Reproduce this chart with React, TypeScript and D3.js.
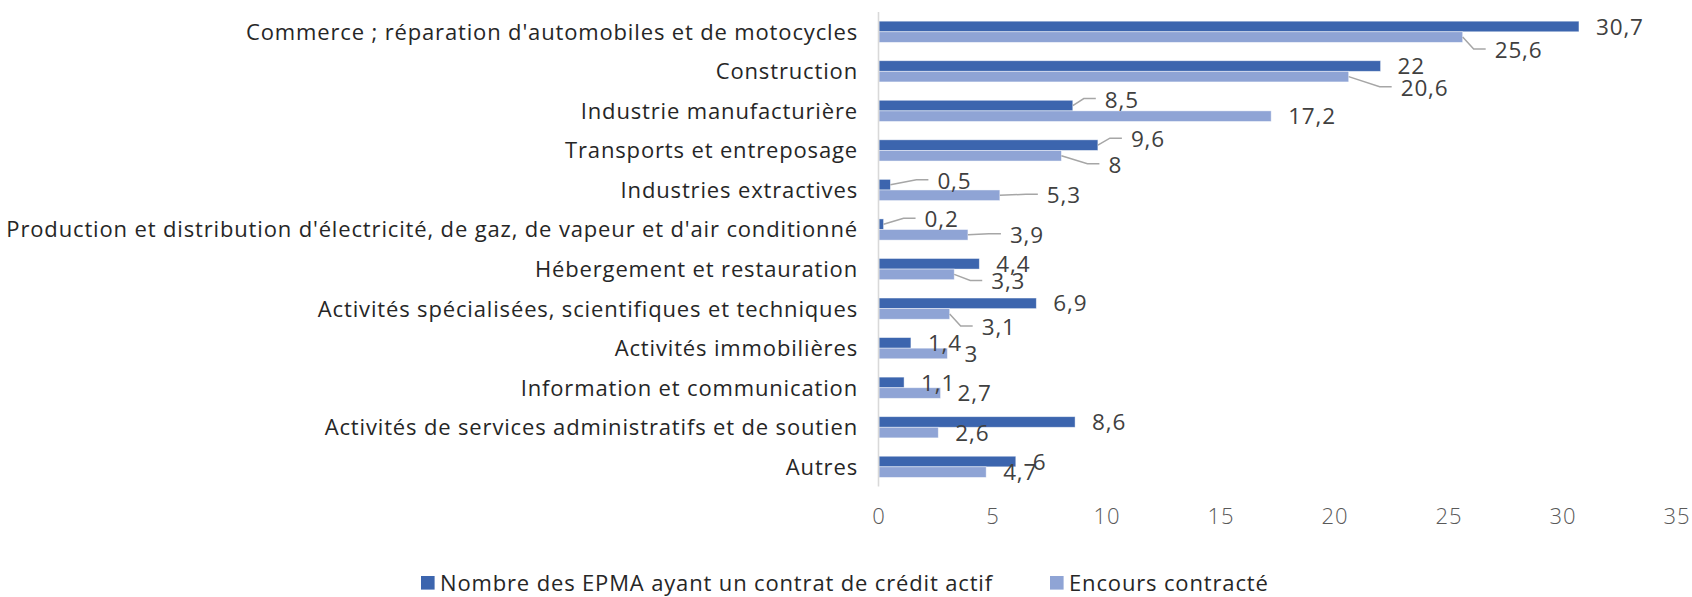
import React from "react";
import * as d3 from "d3";

const categories = [
  "Commerce ; réparation d'automobiles et de motocycles",
  "Construction",
  "Industrie manufacturière",
  "Transports et entreposage",
  "Industries extractives",
  "Production et distribution d'électricité, de gaz, de vapeur et d'air conditionné",
  "Hébergement et restauration",
  "Activités spécialisées, scientifiques et techniques",
  "Activités immobilières",
  "Information et communication",
  "Activités de services administratifs et de soutien",
  "Autres",
];

const nombreEPMA = [30.7, 22, 8.5, 9.6, 0.5, 0.2, 4.4, 6.9, 1.4, 1.1, 8.6, 6];
const encours = [25.6, 20.6, 17.2, 8, 5.3, 3.9, 3.3, 3.1, 3, 2.7, 2.6, 4.7];

const seriesNames = ["Nombre des EPMA ayant un contrat de crédit actif", "Encours contracté"];
const xTicks = [0, 5, 10, 15, 20, 25, 30, 35];

// manual label moves (px) from the default "outside end" spot, like in the source
const nudgeA: [number, number][] = [
  [0, 0], [0, 0], [15, -6], [16, -6], [30, -4], [24, -5],
  [0, 0], [0, 0], [0, 0], [0, 0], [0, 0], [0, 0],
];
const nudgeB: [number, number][] = [
  [15, 13], [35, 11], [0, 0], [30, 9], [30, 0], [25, 0],
  [20, 7], [15, 13], [0, 0], [0, 0], [0, 0], [0, 0],
];

const colors = ["#3c65ae", "#8fa4d5"];
const font = "'Open Sans', Lato, sans-serif";
const fs = 22;
const ls = 0.85;

const fmt = (v: number) => String(v).replace(".", ",");

export default function App() {
  const width = 1692;
  const height = 597;

  const x = d3.scaleLinear().domain([0, 35]).range([879, 1677]);
  const y = d3
    .scaleBand<string>()
    .domain(categories)
    .range([12, 486.6])
    .paddingInner(0.464)
    .paddingOuter(0.232);
  const sub = d3.scaleBand<number>().domain([0, 1]).range([0, y.bandwidth()]);

  const series = [nombreEPMA, encours];
  const nudges = [nudgeA, nudgeB];

  return (
    <svg width={width} height={height} style={{ position: "absolute", left: 0, top: 0 }}>
      <rect width={width} height={height} fill="#fff" />

      {/* bars */}
      {series.map((vals, si) =>
        vals.map((v, i) => (
          <rect
            key={`b${si}-${i}`}
            x={x(0)}
            y={(y(categories[i]) as number) + (sub(si) as number)}
            width={x(v) - x(0)}
            height={sub.bandwidth()}
            fill={colors[si]}
            stroke="#ffffff"
            strokeOpacity={0.55}
            strokeWidth={0.8}
          />
        ))
      )}

      {/* axis line */}
      <line x1={878.5} x2={878.5} y1={12} y2={486.6} stroke="#d9d9d9" strokeWidth={1.6} />

      {/* category labels */}
      {categories.map((c) => (
        <text
          key={c}
          x={858}
          y={(y(c) as number) + y.bandwidth() / 2}
          dy="0.36em"
          textAnchor="end"
          fontFamily={font}
          fontSize={fs}
          letterSpacing={ls}
          fill="#262626"
        >
          {c}
        </text>
      ))}

      {/* x tick labels */}
      {xTicks.map((t) => (
        <text
          key={t}
          x={x(t)}
          y={516}
          dy="0.36em"
          textAnchor="middle"
          fontFamily={font}
          fontSize={fs}
          fontWeight={300}
          letterSpacing={ls}
          fill="#595959"
        >
          {t}
        </text>
      ))}

      {/* data labels + leader lines */}
      {series.map((vals, si) =>
        vals.map((v, i) => {
          const cy = (y(categories[i]) as number) + (sub(si) as number) + sub.bandwidth() / 2;
          const [dx, dy] = nudges[si][i];
          const lx = x(v) + 17 + dx;
          const ly = cy + dy;
          const moved = dx !== 0 || dy !== 0;
          const pts: [number, number][] = [
            [x(v), cy],
            [lx - 21, ly - 1],
            [lx - 9, ly - 1],
          ];
          return (
            <g key={`l${si}-${i}`}>
              {moved && (
                <path
                  d={d3.line()(pts) as string}
                  fill="none"
                  stroke="#a6a6a6"
                  strokeWidth={1.5}
                />
              )}
              <text
                x={lx}
                y={ly}
                dy="0.36em"
                fontFamily={font}
                fontSize={fs + 0.5}
                letterSpacing={ls}
                fill="#404040"
              >
                {fmt(v)}
              </text>
            </g>
          );
        })
      )}

      {/* legend */}
      {seriesNames.map((n, si) => {
        const lx = si === 0 ? 421 : 1050;
        return (
          <g key={n}>
            <rect x={lx} y={576} width={13.6} height={13.6} fill={colors[si]} />
            <text
              x={lx + 19}
              y={583}
              dy="0.36em"
              fontFamily={font}
              fontSize={fs}
              letterSpacing={ls}
              fill="#262626"
            >
              {n}
            </text>
          </g>
        );
      })}
    </svg>
  );
}
